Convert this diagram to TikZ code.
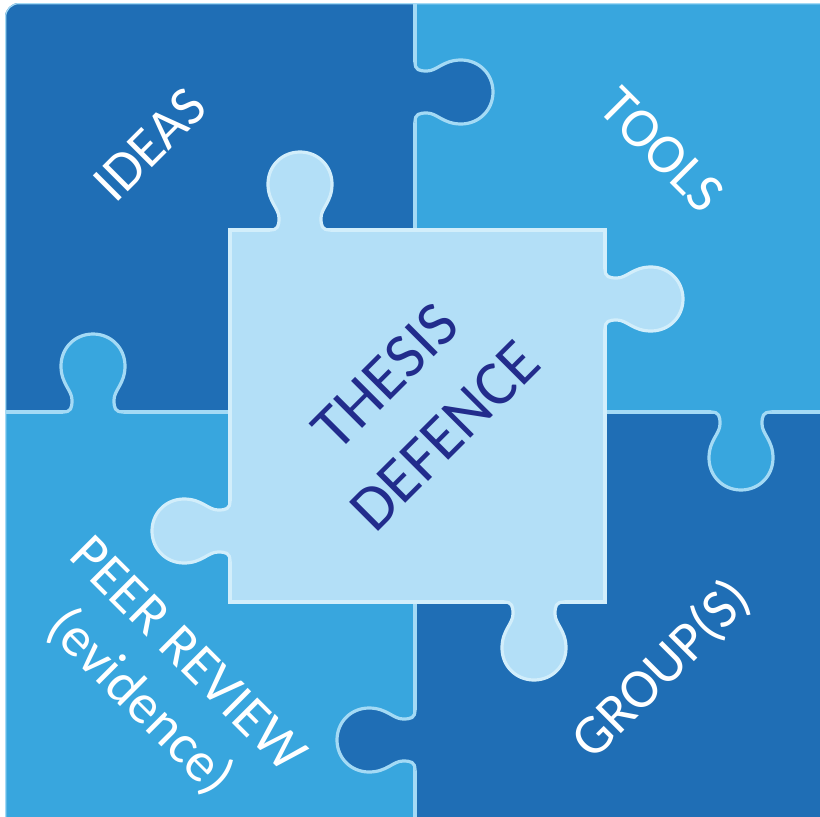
\documentclass[tikz,border=0pt]{standalone}
\usepackage{fontspec}
\newfontfamily\carl{Carlito}
\definecolor{darkpiece}{HTML}{1F6EB5}
\definecolor{midpiece}{HTML}{38A6DE}
\definecolor{centerpiece}{HTML}{B3DFF7}
\definecolor{seamcol}{HTML}{A4DAF5}
\definecolor{centeredge}{HTML}{D2EEFB}
\definecolor{navytext}{HTML}{222C8C}
\tikzset{
  seam/.style={draw=seamcol,line width=3.2pt},
  cseam/.style={draw=centeredge,line width=3.2pt},
  lab/.style={text=white,font=\carl\fontsize{56}{67}\selectfont,align=center,inner sep=0pt},
  clab/.style={text=navytext,font=\carl\fontsize{64}{84}\selectfont,align=center,inner sep=0pt}
}
% #1 x, #2 y, #3 direction angle, #4 fill colour, #5 outline style
\newcommand\puzzletab[5]{%
\begin{scope}[shift={(#1,#2)},rotate=#3]
  \fill[#4] (-6,-30) -- (0,-30) .. controls (0,-22) and (4,-21) .. (12,-21)
    .. controls (22,-21) and (28,-32) .. (46,-32)
    .. controls (64,-32) and (78,-18) .. (78,0)
    .. controls (78,18) and (64,32) .. (46,32)
    .. controls (28,32) and (22,21) .. (12,21)
    .. controls (4,21) and (0,22) .. (0,30) -- (-6,30) -- cycle;
  \draw[#5] (0,-30) .. controls (0,-22) and (4,-21) .. (12,-21)
    .. controls (22,-21) and (28,-32) .. (46,-32)
    .. controls (64,-32) and (78,-18) .. (78,0)
    .. controls (78,18) and (64,32) .. (46,32)
    .. controls (28,32) and (22,21) .. (12,21)
    .. controls (4,21) and (0,22) .. (0,30);
\end{scope}}
\begin{document}
\begin{tikzpicture}[x=1pt,y=-1pt]
\useasboundingbox (0,0) rectangle (820,817);
\fill[white] (0,0) rectangle (820,817);
\begin{scope}
  \clip[rounded corners=14pt] (5,3) rectangle (850,850);
  % quadrants
  \fill[darkpiece] (0,0) rectangle (415,412);
  \fill[midpiece] (415,0) rectangle (850,412);
  \fill[midpiece] (0,412) rectangle (415,850);
  \fill[darkpiece] (415,412) rectangle (850,850);
  % seams
  \draw[seam] (0,412) -- (850,412);
  \draw[seam] (415,0) -- (415,850);
  \draw[seamcol,line width=2.5pt,rounded corners=14pt] (5,3) rectangle (850,850);
  % quadrant tabs
  \puzzletab{415}{92}{0}{darkpiece}{seam}
  \puzzletab{93}{412}{90}{midpiece}{seam}
  \puzzletab{741}{412}{-90}{midpiece}{seam}
  \puzzletab{415}{740}{180}{darkpiece}{seam}
  % centre piece
  \fill[centerpiece] (230,230) rectangle (605,602);
  \draw[cseam] (230,230) rectangle (605,602);
  \puzzletab{300}{230}{90}{centerpiece}{cseam}
  \puzzletab{605}{299}{0}{centerpiece}{cseam}
  \puzzletab{534}{602}{-90}{centerpiece}{cseam}
  \puzzletab{230}{531}{180}{centerpiece}{cseam}
\end{scope}
% labels
\node[lab,rotate=45] (ideas) at (150,145) {IDEAS};
\node[lab,rotate=-45] (tools) at (662,150) {TOOLS};
\node[clab,rotate=45] (thesis) at (415,406) {THESIS\\DEFENCE};
\node[lab,rotate=-45] (peer) at (162,680) {PEER REVIEW\\(evidence)};
\node[lab,rotate=45] (groups) at (662,670) {GROUP(S)};
\end{tikzpicture}
\end{document}
